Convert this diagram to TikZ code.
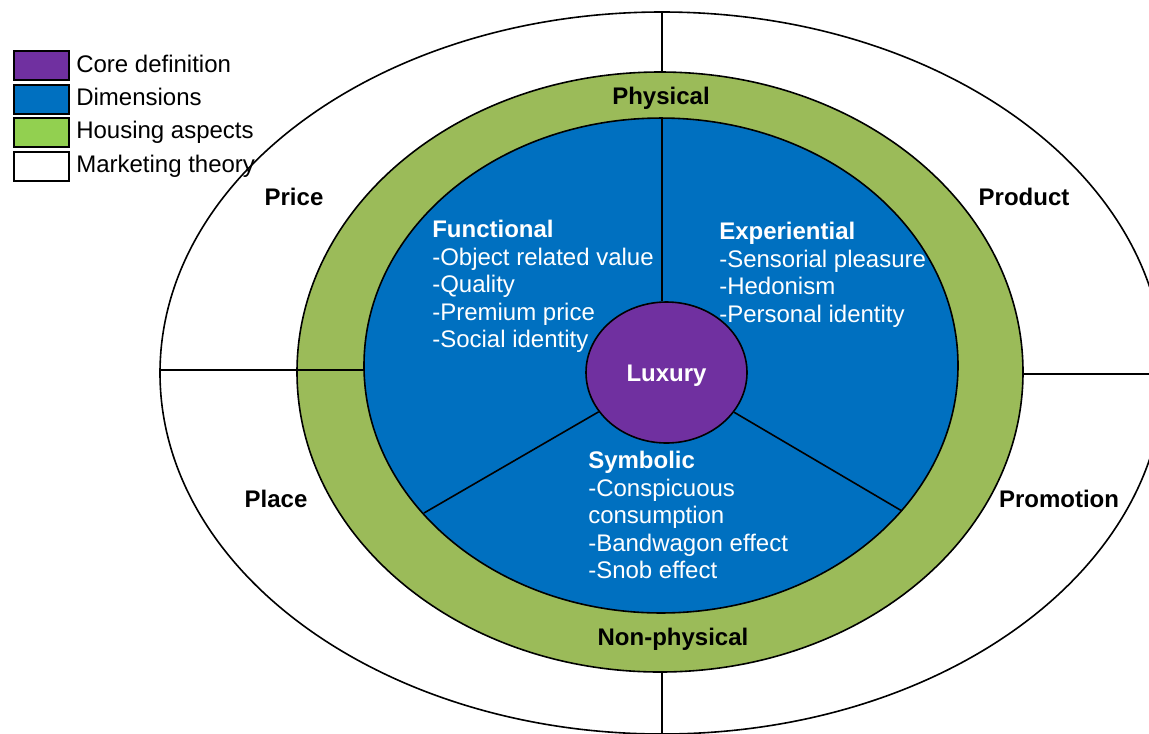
\documentclass[tikz,border=0pt]{standalone}
\usepackage{fontspec}
\setmainfont{Liberation Sans}
\usetikzlibrary{shapes.geometric}
\definecolor{corepurple}{HTML}{7030A0}
\definecolor{dimblue}{HTML}{0070C0}
\definecolor{ringgreen}{HTML}{9BBB59}
\definecolor{leggreen}{HTML}{92D050}
\begin{document}
\begin{tikzpicture}[x=0.75pt,y=-0.75pt,
  outline/.style={draw=black, line width=1.2pt},
  sep/.style={draw=black, line width=1.2pt},
  lbl/.style={font=\fontsize{18}{20.6}\selectfont\bfseries, inner sep=0pt, anchor=base},
  dimtxt/.style={font=\fontsize{18}{20.6}\selectfont, text=white, align=left, inner sep=0pt, anchor=north west},
  legbox/.style={draw=black, line width=1.5pt, minimum width=41.25pt, minimum height=21.75pt, inner sep=0pt, anchor=north west},
  legtxt/.style={font=\fontsize{18}{20.6}\selectfont, inner sep=0pt, anchor=base west}]
\useasboundingbox (0,0) rectangle (1149,733);
\begin{scope}
\clip (0,0) rectangle (1149,733);
% outer ring: marketing theory
\draw[outline, fill=white] (662,373) ellipse [x radius=376.5pt, y radius=270.75pt];
\coordinate (oTop) at (662,13);
\coordinate (gTop) at (662,72);
\coordinate (gBot) at (662,672);
\coordinate (oBot) at (662,745);
\coordinate (oLeft) at (160,370);
\coordinate (bLeft) at (364,370);
\coordinate (gRight) at (1023,374);
\coordinate (oRight) at (1160,374);
\draw[sep] (oTop) -- (gTop);
\draw[sep] (gBot) -- (oBot);
\draw[sep] (gRight) -- (oRight);
% housing ring
\draw[outline, fill=ringgreen] (660,372) ellipse [x radius=272.25pt, y radius=225pt];
\draw[sep] (oLeft) -- (bLeft);
% dimensions
\draw[outline, fill=dimblue] (661,365.5) ellipse [x radius=222.75pt, y radius=185.6pt];
\node[ellipse, draw=black, line width=1.2pt, fill=corepurple, minimum width=120.75pt, minimum height=105.75pt, inner sep=0pt,
  text height=12.9pt, text depth=0pt,
  font=\fontsize{18}{20.6}\selectfont\bfseries, text=white] (lux) at (666.5,372.5) {Luxury};
\coordinate (bTop) at (662,118);
\coordinate (bLL) at (424,513);
\coordinate (bLR) at (902,511);
\draw[sep] (bTop) -- (bTop |- lux.north);
\draw[sep] (lux) -- (bLL);
\draw[sep] (lux) -- (bLR);
\end{scope}
% dimension texts
\node[dimtxt] (func) at (432,220) {\textbf{Functional}\\-Object related value\\-Quality\\-Premium price\\-Social identity};
\node[dimtxt] (expe) at (719,222) {\textbf{Experiential}\\-Sensorial pleasure\\-Hedonism\\-Personal identity};
\node[dimtxt] (symb) at (588,451) {\textbf{Symbolic}\\-Conspicuous\\consumption\\-Bandwagon effect\\-Snob effect};
% ring labels
\node[lbl] (phys) at (661,104) {Physical};
\node[lbl] (nonphys) at (673,645) {Non-physical};
\node[lbl] (price) at (294,205) {Price};
\node[lbl] (product) at (1024,205) {Product};
\node[lbl] (place) at (276,507) {Place};
\node[lbl] (promo) at (1059,507) {Promotion};
% legend
\node[legbox, fill=corepurple] (lg1) at (13,50) {};
\node[legbox, fill=dimblue] (lg2) at (13,83.5) {};
\node[legbox, fill=leggreen] (lg3) at (13,117) {};
\node[legbox, fill=white] (lg4) at (13,150.5) {};
\node[legtxt] (lt1) at (76,72) {Core definition};
\node[legtxt] (lt2) at (76,105) {Dimensions};
\node[legtxt] (lt3) at (76,138) {Housing aspects};
\node[legtxt] (lt4) at (76,172) {Marketing theory};
\end{tikzpicture}
\end{document}
